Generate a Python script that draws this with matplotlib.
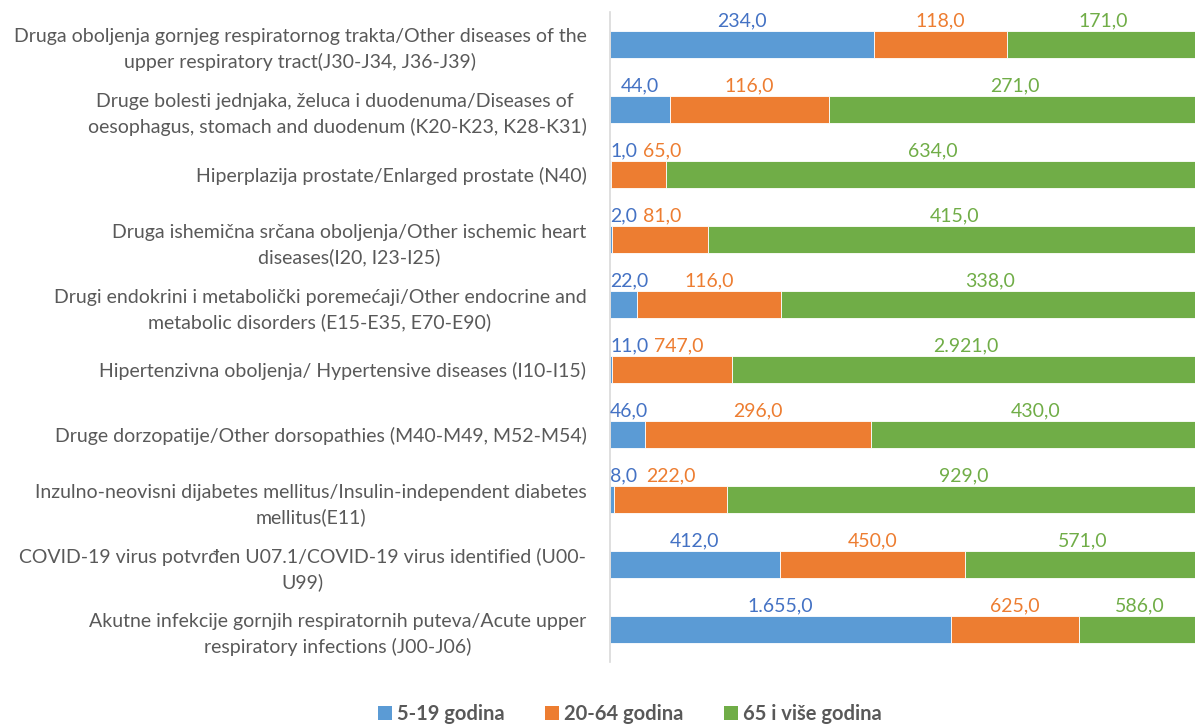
import numpy as np
import matplotlib.pyplot as plt
from matplotlib.patches import Patch

plt.rcParams['font.family'] = ['Lato', 'DejaVu Sans']

categories = [
    "Druga oboljenja gornjeg respiratornog trakta/Other diseases of the\nupper respiratory tract(J30-J34, J36-J39)",
    "Druge bolesti jednjaka, želuca i duodenuma/Diseases of \noesophagus, stomach and duodenum (K20-K23, K28-K31)",
    "Hiperplazija prostate/Enlarged prostate (N40)",
    "Druga ishemična srčana oboljenja/Other ischemic heart\ndiseases(I20, I23-I25)",
    "Drugi endokrini i metabolički poremećaji/Other endocrine and\nmetabolic disorders (E15-E35, E70-E90)",
    "Hipertenzivna oboljenja/ Hypertensive diseases (I10-I15)",
    "Druge dorzopatije/Other dorsopathies (M40-M49, M52-M54)",
    "Inzulno-neovisni dijabetes mellitus/Insulin-independent diabetes\nmellitus(E11)",
    "COVID-19 virus potvrđen U07.1/COVID-19 virus identified (U00-\nU99)",
    "Akutne infekcije gornjih respiratornih puteva/Acute upper\nrespiratory infections (J00-J06)",
]
series_names = ["5-19 godina", "20-64 godina", "65 i više godina"]
age_5_19 = [234, 44, 1, 2, 22, 11, 46, 8, 412, 1655]
age_20_64 = [118, 116, 65, 81, 116, 747, 296, 222, 450, 625]
age_65 = [171, 271, 634, 415, 338, 2921, 430, 929, 571, 586]

bar_colors = ['#5B9BD5', '#ED7D31', '#70AD47']
text_colors = ['#4472C4', '#ED7D31', '#70AD47']
gray = '#595959'


def fmt(v):
    # European style: 1.655,0
    s = f"{v:,.1f}"
    return s.replace(',', 'X').replace('.', ',').replace('X', '.')


data = np.array([age_5_19, age_20_64, age_65], dtype=float)
totals = data.sum(axis=0)
shares = data / totals

fig = plt.figure(figsize=(11.95, 7.24), dpi=100)
ax = fig.add_axes([610 / 1195, 62 / 724, 590 / 1195, 650 / 724])

y = np.arange(len(categories))
bar_h = 0.41
left = np.zeros(len(categories))
for k in range(3):
    ax.barh(y, shares[k], left=left, height=bar_h, color=bar_colors[k],
            edgecolor='white', linewidth=0.6)
    left += shares[k]

ax.set_xlim(0, 1)
ax.set_ylim(len(categories) - 0.5, -0.5)
ax.set_xticks([])
ax.set_yticks(y)
ax.set_yticklabels(categories, fontsize=14, color=gray, ma='center', linespacing=1.5)
ax.tick_params(axis='y', length=0, pad=17)
for s in ['top', 'right', 'bottom']:
    ax.spines[s].set_visible(False)
ax.spines['left'].set_color('#D9D9D9')
ax.spines['left'].set_linewidth(1.2)

# value labels above each segment, nudged right when they would collide
fig.canvas.draw()
renderer = fig.canvas.get_renderer()
inv = ax.transData.inverted()
gap = 0.01
for i in range(len(categories)):
    start = 0.0
    prev_right = 0.0
    for k in range(3):
        center = start + shares[k, i] / 2
        t = ax.text(center, i - bar_h / 2 - 0.08, fmt(data[k, i]), ha='center',
                    va='baseline', fontsize=14, color=text_colors[k])
        bb = t.get_window_extent(renderer)
        w = inv.transform((bb.x1, 0))[0] - inv.transform((bb.x0, 0))[0]
        lo = center - w / 2
        min_lo = prev_right + (gap if k > 0 else 0)
        if lo < min_lo:
            center = min_lo + w / 2
            t.set_x(center)
        prev_right = center + w / 2
        start += shares[k, i]

handles = [Patch(facecolor=c, edgecolor='none') for c in bar_colors]
leg = fig.legend(handles, series_names, loc='center', bbox_to_anchor=(0.527, 0.014),
                 ncol=3, frameon=False, handlelength=0.7, handleheight=0.7,
                 handletextpad=0.25, columnspacing=2.0,
                 prop={'weight': 'bold', 'size': 14.5})
for txt in leg.get_texts():
    txt.set_color(gray)

fig.savefig('out.png', dpi=100)
